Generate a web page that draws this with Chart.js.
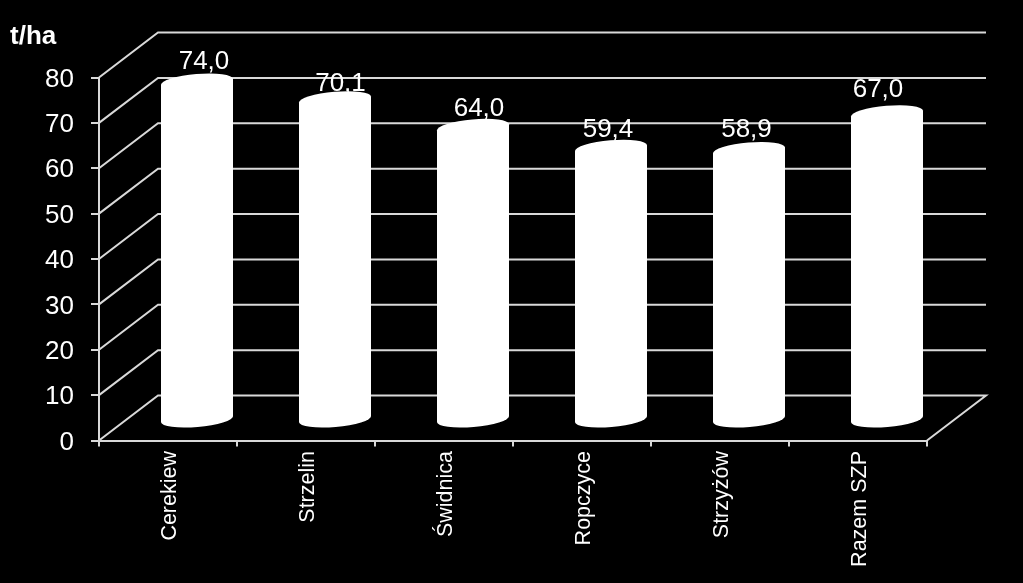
<!DOCTYPE html>
<html>
<head>
<meta charset="utf-8">
<script src="https://cdn.jsdelivr.net/npm/chart.js@4"></script>
<style>
  html, body { margin: 0; background: #000; }
  #wrap { width: 1023px; height: 583px; }
</style>
</head>
<body>
<div id="wrap"><canvas id="yieldChart"></canvas></div>
<script>
const categories = ["Cerekiew", "Strzelin", "Świdnica", "Ropczyce", "Strzyżów", "Razem SZP"]
const yields = [74.0, 70.1, 64.0, 59.4, 58.9, 67.0]
const yTicks = [0, 10, 20, 30, 40, 50, 60, 70, 80]

const depthX = 59
const depthY = 45
const gridColor = "#d9d9d9"
const font = "Liberation Sans, Arial, sans-serif"

// the value labels are not placed evenly in the original
const labelShiftX = [7, 5.5, 6, -3, -2.5, -9]
const labelShiftY = [-35.5, -31.5, -34.5, -33.5, -36.5, -39]

// pseudo 3D: back wall, floor edge and cylinders, all hung off the real scales
const cylinderPlugin = {
  id: "cylinders",
  beforeDatasetsDraw(chart) {
    const { ctx, chartArea: area, scales: { y } } = chart
    ctx.save()
    ctx.strokeStyle = gridColor
    ctx.lineWidth = 2
    yTicks.forEach((t) => {
      const py = y.getPixelForValue(t)
      ctx.beginPath()
      ctx.moveTo(area.left, py)
      ctx.lineTo(area.left + depthX, py - depthY)
      ctx.lineTo(area.right + depthX, py - depthY)
      if (t === 0) ctx.lineTo(area.right, py)
      ctx.stroke()
    })
    ctx.restore()
  },
  afterDatasetsDraw(chart) {
    const { ctx, scales: { x, y } } = chart
    const halfW = 36
    const rx = 36.2
    const ry = 8
    const tilt = -0.085
    const lean = 3 // how far the ellipse ends sit off its centre line
    ctx.save()
    ctx.font = "26px " + font
    ctx.fillStyle = "#fff"
    ctx.textAlign = "center"
    yields.forEach((v, i) => {
      const cx = x.getPixelForValue(i) + 29
      const label = v.toFixed(1).replace(".", ",")
      ctx.fillText(label, cx + labelShiftX[i], y.getPixelForValue(v) + labelShiftY[i])
    })
    yields.forEach((v, i) => {
      const cx = x.getPixelForValue(i) + 29
      const top = y.getPixelForValue(v) - 22.7
      const bottom = y.getPixelForValue(0) - 21.5
      ctx.beginPath()
      ctx.ellipse(cx, top, rx, ry, tilt, 0, Math.PI * 2)
      ctx.fill()
      ctx.beginPath()
      ctx.ellipse(cx, bottom, rx, ry, tilt, 0, Math.PI * 2)
      ctx.fill()
      ctx.beginPath()
      ctx.moveTo(cx - halfW, top + lean)
      ctx.lineTo(cx + halfW, top - lean)
      ctx.lineTo(cx + halfW, bottom - lean)
      ctx.lineTo(cx - halfW, bottom + lean)
      ctx.closePath()
      ctx.fill()
    })
    ctx.restore()
  },
}

const unitLabel = {
  id: "unitLabel",
  afterDraw(chart) {
    const { ctx } = chart
    ctx.save()
    ctx.font = "bold 26px " + font
    ctx.fillStyle = "#fff"
    ctx.fillText("t/ha", 10, 44)
    ctx.restore()
  },
}

new Chart(document.getElementById("yieldChart"), {
  type: "bar",
  data: {
    labels: categories,
    datasets: [
      {
        data: yields,
        backgroundColor: "rgba(0,0,0,0)",
        borderWidth: 0,
      },
    ],
  },
  options: {
    responsive: true,
    maintainAspectRatio: false,
    animation: false,
    layout: { padding: { left: 0, top: 77.5, right: 96, bottom: 0 } },
    plugins: { legend: { display: false }, tooltip: { enabled: false } },
    scales: {
      x: {
        afterFit(scale) { scale.height = 142.5 },
        grid: { offset: true, drawOnChartArea: false, color: gridColor, lineWidth: 2, tickLength: 6 },
        border: { color: gridColor, width: 2 },
        ticks: {
          color: "#fff",
          font: { family: font, size: 21.5 },
          minRotation: 90,
          maxRotation: 90,
          padding: 4.5,
          labelOffset: 2,
          autoSkip: false,
        },
      },
      y: {
        min: 0,
        max: 80,
        afterFit(scale) { scale.width = 99 },
        grid: { drawOnChartArea: false, color: gridColor, lineWidth: 2, tickLength: 8 },
        border: { color: gridColor, width: 2 },
        ticks: {
          stepSize: 10,
          color: "#fff",
          font: { family: font, size: 26 },
          padding: 17,
          labelOffset: 2,
        },
      },
    },
  },
  plugins: [cylinderPlugin, unitLabel],
})
</script>
</body>
</html>
